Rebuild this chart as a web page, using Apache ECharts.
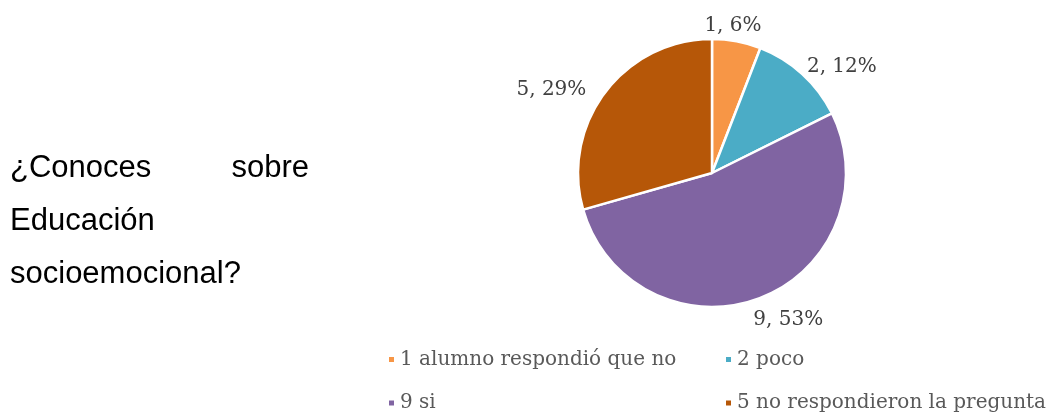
<!DOCTYPE html>
<html><head><meta charset="utf-8">
<script src="https://cdn.jsdelivr.net/npm/echarts@6/dist/echarts.min.js"></script>
<style>html,body{margin:0;padding:0;background:#fff}#c{width:1052px;height:414px}</style>
</head><body><div id="c"></div>
<script>
var categories = ['1 alumno respondió que no', '2 poco', '9 si', '5 no respondieron la pregunta'];
var values = [1, 2, 9, 5];
var sliceColors = ['#F79646', '#4BACC6', '#8064A2', '#B65708'];
var questionLines = ['¿Conoces', 'sobre', 'Educación', 'socioemocional?'];

// layout (not data)
var PIE_CX = 712, PIE_CY = 173, PIE_R = 134, START = 90, GAP = 6;
var labelNudge = [[-10, 0], [12, 5], [13, 7], [-21, 7]];

var total = values.reduce(function (a, b) { return a + b; }, 0);
var cum = [];
values.reduce(function (acc, v, i) { cum[i] = acc; return acc + v; }, 0);

var chart = echarts.init(document.getElementById('c'), null, {renderer: 'canvas'});
var legendText = {fontFamily: 'DejaVu Serif', fontSize: 20, color: '#595959', lineHeight: 20};
function legendAt(left, names) {
  return {
    orient: 'vertical', left: left, top: 349.5, padding: 0,
    icon: 'rect', itemWidth: 7, itemHeight: 7, itemGap: 23.5, itemTextGap: 9,
    textStyle: legendText, data: names, selectedMode: false
  };
}
var qFont = '31px "Liberation Sans"';
chart.setOption({
  animation: false,
  backgroundColor: '#fff',
  legend: [legendAt(387, [categories[0], categories[2]]), legendAt(724, [categories[1], categories[3]])],
  graphic: [
    {type: 'text', left: 10, top: 153, style: {text: questionLines[0], font: qFont, fill: '#000'}},
    {type: 'text', right: 1052 - 309, top: 153, style: {text: questionLines[1], font: qFont, fill: '#000'}},
    {type: 'text', left: 10, top: 206, style: {text: questionLines[2], font: qFont, fill: '#000'}},
    {type: 'text', left: 10, top: 259, style: {text: questionLines[3], font: qFont, fill: '#000'}}
  ],
  series: [{
    type: 'pie',
    center: [PIE_CX, PIE_CY],
    radius: PIE_R,
    startAngle: START,
    clockwise: true,
    avoidLabelOverlap: false,
    itemStyle: {borderColor: '#fff', borderWidth: 2.5},
    label: {
      show: true, position: 'outside',
      fontFamily: 'DejaVu Serif', fontSize: 20, color: '#404040',
      formatter: function (p) { return p.value + ', ' + Math.round(p.value / total * 100) + '%'; }
    },
    labelLine: {show: false},
    labelLayout: function (p) {
      var i = p.dataIndex;
      var mid = (START - (cum[i] + values[i] / 2) / total * 360) * Math.PI / 180;
      var c = Math.cos(mid), s = Math.sin(mid);
      var w = p.labelRect.width, h = p.labelRect.height;
      var px = PIE_CX + (PIE_R + GAP) * c, py = PIE_CY - (PIE_R + GAP) * s;
      return {x: px + c * w / 2 + labelNudge[i][0], y: py - s * h / 2 + labelNudge[i][1], align: 'center', verticalAlign: 'middle'};
    },
    emphasis: {disabled: true},
    data: categories.map(function (n, i) { return {name: n, value: values[i], itemStyle: {color: sliceColors[i]}}; })
  }]
});
</script></body></html>
